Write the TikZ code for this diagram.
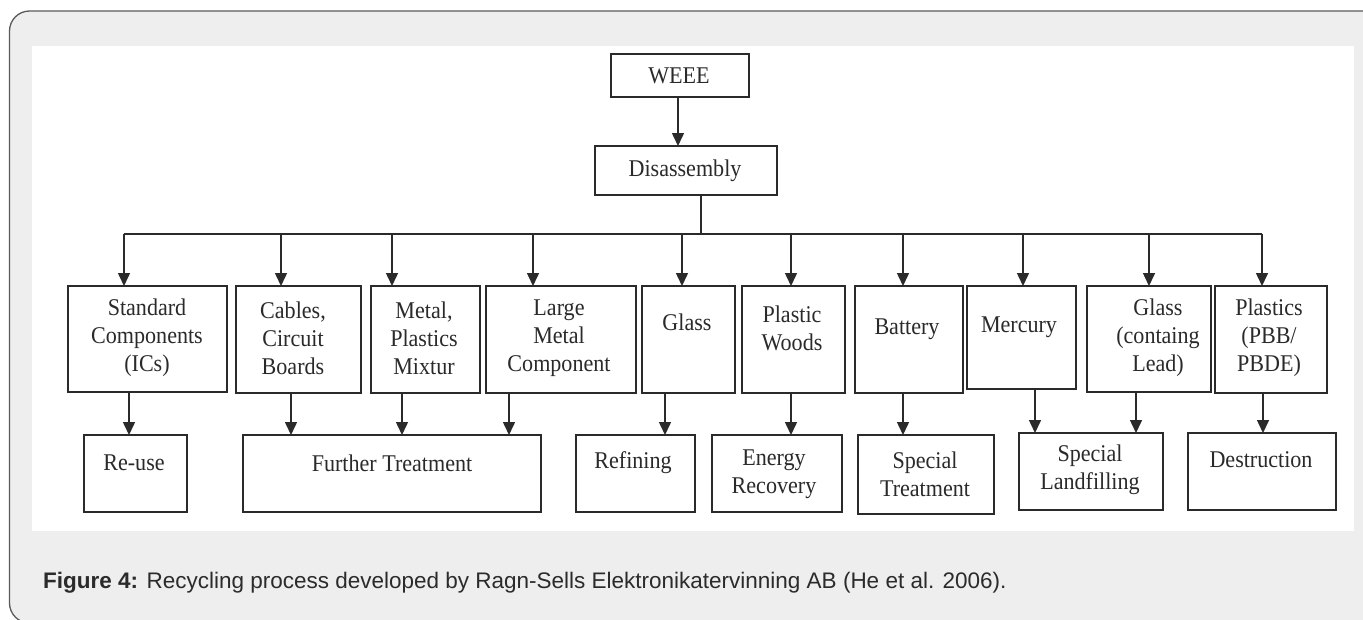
\documentclass[tikz,border=0pt]{standalone}
\usepackage{fontspec}
\setmainfont{Liberation Serif}[FakeStretch=0.92]
\newfontfamily\capfont{Liberation Sans}
\usetikzlibrary{arrows.meta}
\definecolor{panel}{HTML}{EEEEEE}
\definecolor{frame}{HTML}{5A5A5A}
\definecolor{ink}{HTML}{2A2A2A}
\definecolor{captxt}{HTML}{2B2B2B}
\begin{document}
\begin{tikzpicture}[x=1pt,y=-1pt,
  boxshape/.style={draw=ink, line width=1.6pt, rectangle, inner sep=0pt, outer sep=0pt, anchor=north west},
  lbl/.style={font=\fontsize{24}{28}\selectfont, text=ink, align=center, inner sep=0pt},
  conn/.style={draw=ink, line width=1.5pt},
  arr/.style={conn, -{Triangle[width=12pt,length=13pt]}}
]
\useasboundingbox (0,0) rectangle (1363,619);
\path[fill=panel, draw=frame, line width=1.3pt, rounded corners=20pt] (9.5,11) rectangle (1383,623);
\fill[white] (32,46) rectangle (1354,531);

% top boxes
\node[boxshape, minimum width=138pt, minimum height=43pt] (weee) at (611,54) {};
\node[boxshape, minimum width=182pt, minimum height=49pt] (dis) at (595,146) {};
% second row
\node[boxshape, minimum width=159pt, minimum height=106pt] (std) at (68,286) {};
\node[boxshape, minimum width=125pt, minimum height=107pt] (cab) at (236,286) {};
\node[boxshape, minimum width=109pt, minimum height=107pt] (met) at (371,286) {};
\node[boxshape, minimum width=150pt, minimum height=107pt] (lrg) at (486,286) {};
\node[boxshape, minimum width=93pt, minimum height=107pt] (gls) at (642,286) {};
\node[boxshape, minimum width=103pt, minimum height=107pt] (pw) at (742,286) {};
\node[boxshape, minimum width=108pt, minimum height=107pt] (bat) at (855,286) {};
\node[boxshape, minimum width=109pt, minimum height=103pt] (mer) at (967,286) {};
\node[boxshape, minimum width=124pt, minimum height=106pt] (gl) at (1087,286) {};
\node[boxshape, minimum width=112pt, minimum height=107pt] (pl) at (1215,286) {};
% third row
\node[boxshape, minimum width=103pt, minimum height=77pt] (reu) at (84,435) {};
\node[boxshape, minimum width=298pt, minimum height=77pt] (fur) at (243,435) {};
\node[boxshape, minimum width=119pt, minimum height=77pt] (ref) at (576,435) {};
\node[boxshape, minimum width=130pt, minimum height=77pt] (ene) at (712,435) {};
\node[boxshape, minimum width=136pt, minimum height=79pt] (spt) at (858,435) {};
\node[boxshape, minimum width=144pt, minimum height=77pt] (spl) at (1019,433) {};
\node[boxshape, minimum width=148pt, minimum height=77pt] (des) at (1188,433) {};

% texts
\node[lbl] (weee-t) at (679,76) {WEEE};
\node[lbl] (dis-t) at (685,171) {Disassembly};
\node[lbl] (std-t) at (147,338) {Standard\\Components\\(ICs)};
\node[lbl] (cab-t) at (293,338) {Cables,\\Circuit\\Boards};
\node[lbl] (met-t) at (424,338) {Metal,\\Plastics\\Mixtur};
\node[lbl] (lrg-t) at (559,338) {Large\\Metal\\Component};
\node[lbl] (gls-t) at (687,322) {Glass};
\node[lbl] (pw-t) at (792,328) {Plastic\\Woods};
\node[lbl] (bat-t) at (907,329) {Battery};
\node[lbl] (mer-t) at (1019,327) {Mercury};
\node[lbl] (gl-t) at (1158,338) {Glass\\(containg\\Lead)};
\node[lbl] (pl-t) at (1269,338) {Plastics\\(PBB/\\PBDE)};
\node[lbl] (reu-t) at (134,463) {Re-use};
\node[lbl] (fur-t) at (392,463) {Further Treatment};
\node[lbl] (ref-t) at (633,463) {Refining};
\node[lbl] (ene-t) at (774,474) {Energy\\Recovery};
\node[lbl] (spt-t) at (925,474) {Special\\Treatment};
\node[lbl] (spl-t) at (1090,470) {Special\\Landfilling};
\node[lbl] (des-t) at (1261,460) {Destruction};

% connectors: top
\coordinate (a0) at (678,100);
\draw[arr] (weee.south -| a0) -- (dis.north -| a0);
\coordinate (bus) at (701,234);
\draw[conn] (dis.south -| bus) -- (bus);
\coordinate (b1) at (124,234);
\coordinate (b2) at (281,234);
\coordinate (b3) at (392,234);
\coordinate (b4) at (533,234);
\coordinate (b5) at (682,234);
\coordinate (b6) at (791,234);
\coordinate (b7) at (903,234);
\coordinate (b8) at (1023,234);
\coordinate (b9) at (1149,234);
\coordinate (b10) at (1262,234);
\draw[conn] (b1) -- (b10);
\draw[arr] (b1) -- (b1 |- std.north);
\draw[arr] (b2) -- (b2 |- cab.north);
\draw[arr] (b3) -- (b3 |- met.north);
\draw[arr] (b4) -- (b4 |- lrg.north);
\draw[arr] (b5) -- (b5 |- gls.north);
\draw[arr] (b6) -- (b6 |- pw.north);
\draw[arr] (b7) -- (b7 |- bat.north);
\draw[arr] (b8) -- (b8 |- mer.north);
\draw[arr] (b9) -- (b9 |- gl.north);
\draw[arr] (b10) -- (b10 |- pl.north);

% connectors: bottom
\coordinate (c1) at (129,410);
\coordinate (c2) at (291,410);
\coordinate (c3) at (402,410);
\coordinate (c4) at (509,410);
\coordinate (c5) at (665,410);
\coordinate (c6) at (791,410);
\coordinate (c7) at (903,410);
\coordinate (c8) at (1035,410);
\coordinate (c9) at (1136,410);
\coordinate (c10) at (1263,410);
\draw[arr] (std.south -| c1) -- (reu.north -| c1);
\draw[arr] (cab.south -| c2) -- (fur.north -| c2);
\draw[arr] (met.south -| c3) -- (fur.north -| c3);
\draw[arr] (lrg.south -| c4) -- (fur.north -| c4);
\draw[arr] (gls.south -| c5) -- (ref.north -| c5);
\draw[arr] (pw.south -| c6) -- (ene.north -| c6);
\draw[arr] (bat.south -| c7) -- (spt.north -| c7);
\draw[arr] (mer.south -| c8) -- (spl.north -| c8);
\draw[arr] (gl.south -| c9) -- (spl.north -| c9);
\draw[arr] (pl.south -| c10) -- (des.north -| c10);

% caption
\node[anchor=west, inner sep=0pt, font=\capfont\fontsize{22.5}{27}\selectfont, text=captxt] (cap) at (43,583)
  {\textbf{Figure 4:} Recycling process developed by Ragn-Sells Elektronikatervinning AB (He et al. 2006).};
\end{tikzpicture}
\end{document}
